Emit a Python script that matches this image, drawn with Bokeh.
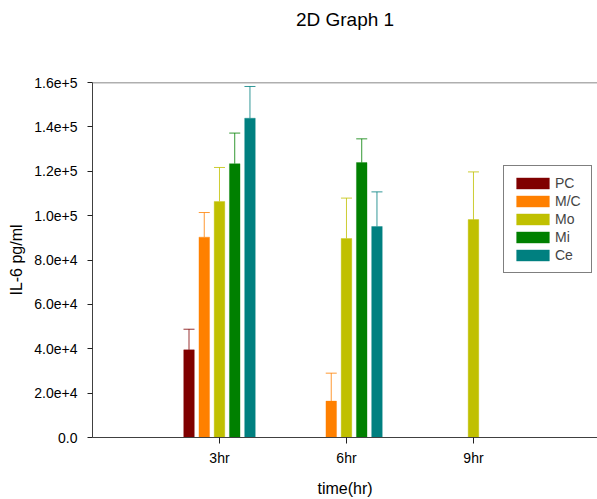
import math
from bokeh.plotting import figure
from bokeh.models import (Range1d, FixedTicker, ColumnDataSource, Whisker, TeeHead,
                          Legend, LegendItem, Span, LinearAxis)
from bokeh.transform import dodge
from bokeh.embed import file_html
from bokeh.resources import INLINE

# ---- data ----
title_text = "2D Graph 1"
time_labels = ["3hr", "6hr", "9hr"]
hours = [3, 6, 9]
series = ["PC", "M/C", "Mo", "Mi", "Ce"]
colors = ["#800000", "#FF8000", "#C0C000", "#008000", "#008080"]
nan = float("nan")
pc_mean = [39500, nan, nan]
pc_err = [9300, nan, nan]
mc_mean = [90300, 16400, nan]
mc_err = [11100, 12600, nan]
mo_mean = [106400, 89700, 98200]
mo_err = [15300, 18200, 21500]
mi_mean = [123400, 123900, nan]
mi_err = [13800, 10700, nan]
ce_mean = [143900, 95100, nan]
ce_err = [14300, 15600, nan]
means = [pc_mean, mc_mean, mo_mean, mi_mean, ce_mean]
errs = [pc_err, mc_err, mo_err, mi_err, ce_err]
y_ticks = [0, 20000, 40000, 60000, 80000, 100000, 120000, 140000, 160000]
y_tick_labels = ["0.0", "2.0e+4", "4.0e+4", "6.0e+4", "8.0e+4", "1.0e+5", "1.2e+5", "1.4e+5", "1.6e+5"]

FONT = "Liberation Sans"

p = figure(width=597, height=499, output_backend="svg", toolbar_location=None,
           x_range=Range1d(0, 11.93), y_range=Range1d(0, 160000),
           min_border_left=92, min_border_right=0, min_border_top=82, min_border_bottom=62,
           title=title_text)
p.title.align = "center"
p.title.text_font = FONT
p.title.text_font_size = "19px"
p.title.text_font_style = "normal"
p.title.text_color = "#000000"
p.title.standoff = 0
p.title.offset = 3

xa = p.below[0]
ya = p.left[0]

# invisible spacer between the title and the frame
spacer = LinearAxis(ticker=FixedTicker(ticks=[6]), axis_line_color=None,
                    major_tick_line_color=None, minor_tick_line_color=None,
                    major_tick_in=0, major_tick_out=53, minor_tick_in=0, minor_tick_out=0,
                    major_label_standoff=0, major_label_text_font_size="0px",
                    major_label_text_alpha=0, major_label_overrides={6: ""})
p.add_layout(spacer, "above")

p.outline_line_color = None
p.xgrid.visible = False
p.ygrid.visible = False
p.background_fill_color = "white"
p.border_fill_color = "white"

# axes
xa.ticker = FixedTicker(ticks=hours)
xa.major_label_overrides = {h: t for h, t in zip(hours, time_labels)}
ya.ticker = FixedTicker(ticks=y_ticks)
ya.major_label_overrides = {v: t for v, t in zip(y_ticks, y_tick_labels)}
for ax in (xa, ya):
    ax.minor_tick_line_color = None
    ax.major_tick_in = 0
    ax.axis_line_color = "#404040"
    ax.major_tick_line_color = "#202020"
    ax.major_label_text_font = FONT
    ax.major_label_text_font_size = "14px"
    ax.major_label_text_color = "#000000"
    ax.axis_label_text_font = FONT
    ax.axis_label_text_font_size = "16px"
    ax.axis_label_text_font_style = "normal"
    ax.axis_label_text_color = "#000000"
xa.axis_label = "time(hr)"
ya.axis_label = "IL-6 pg/ml"
xa.major_tick_out = 6
xa.major_label_standoff = 6
xa.axis_label_standoff = 11
ya.major_tick_out = 5
ya.major_label_standoff = 10
ya.axis_label_standoff = 6

top_line = Span(location=160000, dimension="width", line_color="#606060", line_width=1.5)
p.add_layout(top_line)

offsets = [-0.72, -0.36, 0.0, 0.36, 0.72]
legend_items = []
for name, color, m, e, off in zip(series, colors, means, errs, offsets):
    xs, tops, uppers = [], [], []
    for h, mv, ev in zip(hours, m, e):
        if not math.isnan(mv):
            xs.append(h)
            tops.append(mv)
            uppers.append(mv + ev)
    src = ColumnDataSource(dict(x=xs, top=tops, upper=uppers))
    r = p.vbar(x=dodge("x", off, range=p.x_range), top="top", bottom=0, width=0.25,
               source=src, fill_color=color, line_color=color, line_alpha=0.35)
    w = Whisker(base=dodge("x", off, range=p.x_range), upper="upper", lower="top",
                source=src, line_color=color, line_alpha=0.8, line_width=1,
                upper_head=TeeHead(size=11, line_color=color, line_alpha=0.8, line_width=1),
                lower_head=None)
    p.add_layout(w)
    legend_items.append(LegendItem(label=name, renderers=[r]))

legend = Legend(items=legend_items, location=(411, 164),
                border_line_color="#000000", border_line_width=1,
                background_fill_color="white", background_fill_alpha=1,
                label_text_font=FONT, label_text_font_size="14px",
                glyph_width=41, glyph_height=14, label_height=18, label_width=28,
                label_standoff=2, padding=8, spacing=0, margin=0)
p.add_layout(legend)

open("out.html", "w").write(file_html(p, INLINE))
